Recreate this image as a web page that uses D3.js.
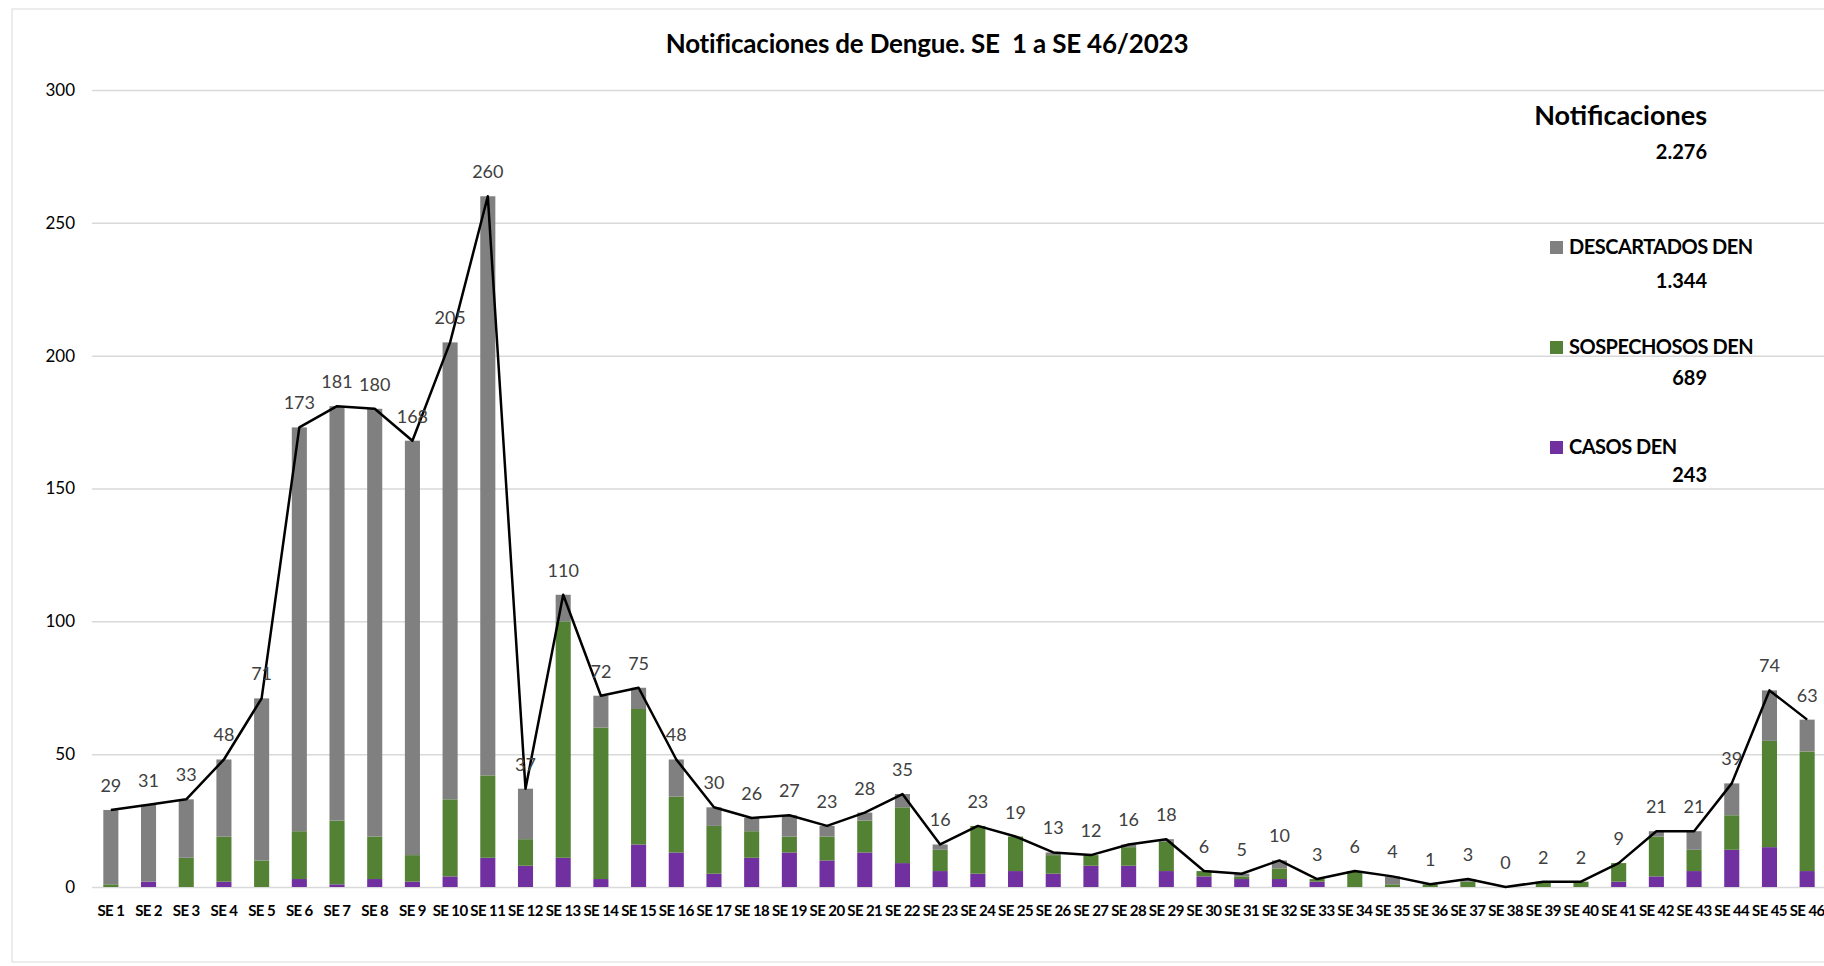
<!DOCTYPE html>
<html>
<head>
<meta charset="utf-8">
<script src="https://cdn.jsdelivr.net/npm/d3@7"></script>
<style>
  body { margin: 0; background: #fff; }
  text { font-family: Lato, "Open Sans", sans-serif; }
</style>
</head>
<body>
<div id="dengue"></div>
<script>
// semanas epidemiologicas
const semanas = d3.range(1, 47).map(d => "SE " + d)

// valores
const casos = [0, 2, 0, 2, 0, 3, 1, 3, 2, 4, 11, 8, 11, 3, 16, 13, 5, 11, 13, 10, 13, 9, 6, 5, 6, 5, 8, 8, 6, 4, 3, 3, 2, 0, 0, 0, 0, 0, 0, 0, 2, 4, 6, 14, 15, 6]
const sospechosos = [1, 0, 11, 17, 10, 18, 24, 16, 10, 29, 31, 10, 89, 57, 51, 21, 18, 10, 6, 9, 12, 21, 8, 18, 13, 7, 4, 7, 11, 2, 1, 4, 1, 6, 1, 1, 2, 0, 2, 2, 7, 15, 8, 13, 40, 45]
const descartados = [28, 29, 22, 29, 61, 152, 156, 161, 156, 172, 218, 19, 10, 12, 8, 14, 7, 5, 8, 4, 3, 5, 2, 0, 0, 1, 0, 1, 1, 0, 1, 3, 0, 0, 3, 0, 1, 0, 0, 0, 0, 2, 7, 12, 19, 12]
const yTicks = [0, 50, 100, 150, 200, 250, 300]

const series = [
  {key: "casos", name: "CASOS DEN", color: "#7030a0", values: casos},
  {key: "sospechosos", name: "SOSPECHOSOS DEN", color: "#538234", values: sospechosos},
  {key: "descartados", name: "DESCARTADOS DEN", color: "#808080", values: descartados}
]

const rows = semanas.map((s, i) => ({
  semana: s,
  casos: casos[i],
  sospechosos: sospechosos[i],
  descartados: descartados[i],
  total: casos[i] + sospechosos[i] + descartados[i]
}))

const width = 1824, height = 966
const svg = d3.select("#dengue")
  .append("svg")
    .attr("width", width)
    .attr("height", height)

// borde del grafico
svg.append("rect")
  .attr("x", 12).attr("y", 9)
  .attr("width", width).attr("height", 953)
  .attr("fill", "none")
  .attr("stroke", "#d9d9d9")

const x = d3.scaleBand()
  .domain(semanas)
  .range([92, 1826])
  .paddingInner(0.6)
  .paddingOuter(0.3)

const y = d3.scaleLinear()
  .domain([0, 300])
  .range([887, 90])

// grilla y eje y
svg.append("g")
  .attr("transform", "translate(92,0)")
  .call(d3.axisLeft(y).tickValues(yTicks).tickSize(-(width - 92)).tickPadding(17))
  .call(g => g.select(".domain").remove())
  .call(g => g.selectAll(".tick line").attr("stroke", "#d9d9d9").attr("stroke-width", 1.5))
  .call(g => g.selectAll(".tick text")
      .attr("fill", "#000")
      .style("font-size", "17px"))

// barras apiladas
const stack = d3.stack().keys(series.map(s => s.key))(rows)
svg.append("g")
  .selectAll("g")
  .data(stack)
  .join("g")
    .attr("fill", (d, i) => series[i].color)
  .selectAll("rect")
  .data(d => d)
  .join("rect")
    .attr("x", d => x(d.data.semana))
    .attr("y", d => y(d[1]))
    .attr("width", x.bandwidth())
    .attr("height", d => y(d[0]) - y(d[1]))

// eje x
svg.append("g")
  .attr("transform", "translate(0,887)")
  .call(d3.axisBottom(x).tickSize(0).tickPadding(18))
  .call(g => g.select(".domain").remove())
  .call(g => g.selectAll(".tick text")
      .attr("fill", "#000")
      .style("font-size", "15px")
      .style("font-weight", "bold")
      .attr("letter-spacing", "-0.6"))

// linea de totales
const cx = d => x(d.semana) + x.bandwidth() / 2
svg.append("path")
  .datum(rows)
  .attr("fill", "none")
  .attr("stroke", "#000")
  .attr("stroke-width", 2.5)
  .attr("stroke-linejoin", "round")
  .attr("d", d3.line().x(cx).y(d => y(d.total)))

svg.append("g")
  .selectAll("text")
  .data(rows)
  .join("text")
    .attr("x", cx)
    .attr("y", d => y(d.total) - 18)
    .attr("text-anchor", "middle")
    .attr("fill", "#404040")
    .style("font-size", "18px")
    .text(d => d.total)

// titulo
svg.append("text")
  .attr("x", 927).attr("y", 53)
  .attr("text-anchor", "middle")
  .style("font-size", "26px")
  .style("font-weight", "bold")
  .attr("letter-spacing", "-0.2")
  .attr("xml:space", "preserve")
  .text("Notificaciones de Dengue. SE  1 a SE 46/2023")

// leyenda con totales
const fmt = n => d3.format(",")(n).replace(/,/g, ".")
const legendRight = 1707
svg.append("text")
  .attr("x", legendRight).attr("y", 125)
  .attr("text-anchor", "end")
  .style("font-size", "27px")
  .style("font-weight", "bold")
  .text("Notificaciones")
svg.append("text")
  .attr("x", legendRight).attr("y", 159)
  .attr("text-anchor", "end")
  .style("font-size", "20px")
  .style("font-weight", "bold")
  .text(fmt(d3.sum(rows, d => d.total)))

const legend = svg.append("g")
  .selectAll("g")
  .data(series.slice().reverse())
  .join("g")
    .attr("transform", (d, i) => "translate(1550," + (241 + i * 100) + ")")
legend.append("rect")
  .attr("width", 13).attr("height", 13)
  .attr("fill", d => d.color)
legend.append("text")
  .attr("x", 19).attr("y", 13)
  .style("font-size", "20px")
  .style("font-weight", "bold")
  .attr("letter-spacing", "-0.5")
  .text(d => d.name)
legend.append("text")
  .attr("x", legendRight - 1550).attr("y", (d, i) => 47 - i * 3)
  .attr("text-anchor", "end")
  .style("font-size", "20px")
  .style("font-weight", "bold")
  .text(d => fmt(d3.sum(d.values)))
</script>
</body>
</html>
